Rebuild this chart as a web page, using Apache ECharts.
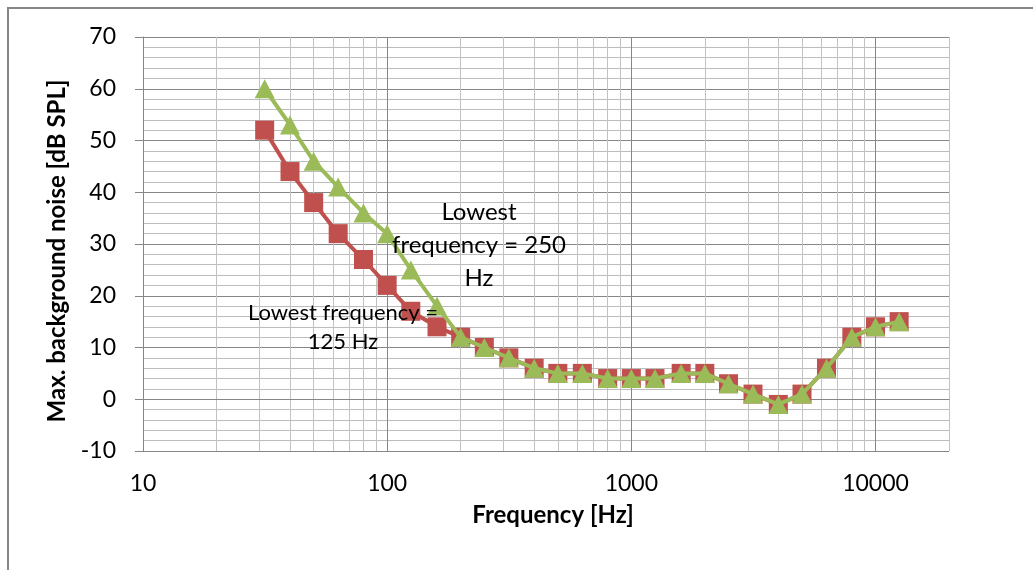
<!DOCTYPE html>
<html>
<head>
<meta charset="utf-8">
<script src="https://cdn.jsdelivr.net/npm/echarts@6/dist/echarts.min.js"></script>
<style>
html,body{margin:0;padding:0;background:#fff;}
#chart{width:1033px;height:570px;}
</style>
</head>
<body>
<div id="chart"></div>
<script>
// Data (third-octave band centre frequencies, Hz)
const frequencies = [31.5, 40, 50, 63, 80, 100, 125, 160, 200, 250, 315, 400, 500, 630, 800, 1000, 1250, 1600, 2000, 2500, 3150, 4000, 5000, 6300, 8000, 10000, 12500];
// Lowest frequency = 125 Hz (red squares)
const noise125 = [52, 44, 38, 32, 27, 22, 17, 14, 12, 10, 8, 6, 5, 5, 4, 4, 4, 5, 5, 3, 1, -1, 1, 6, 12, 14, 15];
// Lowest frequency = 250 Hz (green triangles)
const noise250 = [60, 53, 46, 41, 36, 32, 25, 18, 12, 10, 8, 6, 5, 5, 4, 4, 4, 5, 5, 3, 1, -1, 1, 6, 12, 14, 15];
// Axis ticks
const xMajorTicks = [10, 100, 1000, 10000];
const xMinorTicks = [20, 30, 40, 50, 60, 70, 80, 90, 200, 300, 400, 500, 600, 700, 800, 900, 2000, 3000, 4000, 5000, 6000, 7000, 8000, 9000, 20000];
const yMin = -10, yMax = 70, yStep = 10;
const xMin = 10, xMax = 20000;

const FONT = 'Lato, "Open Sans", "DejaVu Sans", sans-serif';
const chart = echarts.init(document.getElementById('chart'));

const pair = (ys) => frequencies.map((f, i) => [f, ys[i]]);

chart.setOption({
  animation: false,
  backgroundColor: '#ffffff',
  grid: { left: 143, right: 84, top: 37, bottom: 119, containLabel: false },
  xAxis: [
    {
      type: 'log', logBase: 10, min: xMin, max: xMax,
      z: 1,
      axisLine: { show: true, lineStyle: { color: '#868686', width: 1 } },
      axisTick: { show: true, inside: false, length: 8, customValues: xMajorTicks, lineStyle: { color: '#868686' } },
      axisLabel: { customValues: xMajorTicks, formatter: (v) => String(Math.round(v)), fontFamily: FONT, fontSize: 23, color: '#000', margin: 21 },
      splitLine: { show: true, lineStyle: { color: '#868686', width: 1 } },
      name: 'Frequency [Hz]',
      nameLocation: 'middle',
      nameGap: 52,
      nameTextStyle: { fontFamily: FONT, fontSize: 24, fontWeight: 'bold', color: '#000', padding: [0, 0, 0, 14] }
    },
    {
      type: 'log', logBase: 10, min: xMin, max: xMax,
      position: 'bottom', z: 0,
      axisLine: { show: false },
      axisTick: { show: false, customValues: xMinorTicks },
      axisLabel: { show: false, customValues: xMinorTicks },
      splitLine: { show: true, lineStyle: { color: '#c2c2c2', width: 1 } }
    }
  ],
  yAxis: {
    type: 'value', min: yMin, max: yMax, interval: yStep,
    axisLine: { show: true, lineStyle: { color: '#868686' } },
    axisTick: { show: true, length: 8, lineStyle: { color: '#868686' } },
    axisLabel: { fontFamily: FONT, fontSize: 23, color: '#000', margin: 27 },
    splitLine: { show: true, lineStyle: { color: '#868686', width: 1 } },
    minorTick: { show: false, splitNumber: 5 },
    minorSplitLine: { show: true, lineStyle: { color: '#bcbcbc', width: 1 } },
    name: 'Max. background noise [dB SPL]',
    nameLocation: 'middle',
    nameGap: 74,
    nameRotate: 90,
    nameTextStyle: { fontFamily: FONT, fontSize: 24, fontWeight: 'bold', color: '#000', padding: [0, 14, 0, 0] }
  },
  series: [
    {
      name: 'Lowest frequency = 125 Hz',
      type: 'line', xAxisIndex: 0,
      data: pair(noise125),
      symbol: 'rect', symbolSize: 19,
      lineStyle: { color: '#C0504D', width: 4 },
      itemStyle: { color: '#C0504D', borderWidth: 0 },
      z: 3
    },
    {
      name: 'Lowest frequency = 250 Hz',
      type: 'line', xAxisIndex: 0,
      data: pair(noise250),
      symbol: 'triangle', symbolSize: [20, 19],
      lineStyle: { color: '#9BBB59', width: 4 },
      itemStyle: { color: '#9BBB59', borderWidth: 0 },
      z: 4
    }
  ],
  graphic: [
    { type: 'rect', shape: { x: 8, y: 8, width: 1200, height: 700 }, style: { fill: null, stroke: '#868686', lineWidth: 2 }, silent: true, z: -10 },
    { type: 'text', x: 479, y: 196, z: 10,
      style: { text: 'Lowest\nfrequency = 250\nHz', fontFamily: FONT, fontSize: 24, lineHeight: 33, fill: '#000', align: 'center', verticalAlign: 'top' } },
    { type: 'text', x: 343, y: 298, z: 10,
      style: { text: 'Lowest frequency =\n125 Hz', fontFamily: FONT, fontSize: 22, lineHeight: 29, fill: '#000', align: 'center', verticalAlign: 'top' } }
  ]
});
</script>
</body>
</html>
